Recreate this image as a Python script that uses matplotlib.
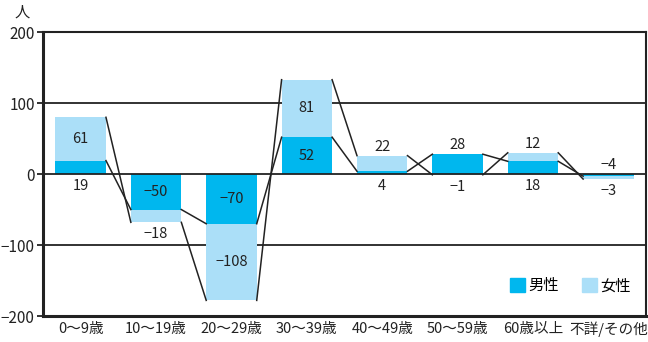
import matplotlib
matplotlib.use("Agg")
import matplotlib.pyplot as plt
from matplotlib.patches import Patch
import numpy as np

plt.rcParams['font.family'] = ['Noto Sans CJK JP', 'DejaVu Sans']

categories = ['0〜9歳', '10〜19歳', '20〜29歳', '30〜39歳', '40〜49歳', '50〜59歳', '60歳以上', '不詳/その他']
male = [19, -50, -70, 52, 4, 28, 18, -3]
female = [61, -18, -108, 81, 22, -1, 12, -4]
male_pos = ['below', 'in', 'in', 'in', 'below', 'above', 'below', 'below']
female_pos = ['in', 'below', 'in', 'in', 'above', 'below', 'above', 'above']
yticks = [-200, -100, 0, 100, 200]

c_male = '#00B7EE'
c_female = '#ABDFF8'
ink = '#222222'

fig = plt.figure(figsize=(6.48, 3.42), dpi=100)
ax = fig.add_axes([0.0664, 0.076, 0.9306, 0.830])

x = np.arange(len(categories))
w = 0.67
male = np.array(male, dtype=float)
female = np.array(female, dtype=float)
f_base = np.where(np.sign(female) == np.sign(male), male, 0.0)
f_end = f_base + female

ax.bar(x, male, w, color=c_male, zorder=2, label='男性')
ax.bar(x, female, w, bottom=f_base, color=c_female, zorder=2, label='女性')

# series lines
for i in range(len(x) - 1):
    ax.plot([x[i] + w / 2, x[i + 1] - w / 2], [male[i], male[i + 1]], color=ink, lw=1.1, zorder=3)
    ax.plot([x[i] + w / 2, x[i + 1] - w / 2], [f_end[i], f_end[i + 1]], color=ink, lw=1.1, zorder=3)

# gridlines
for g in [-100, 100]:
    ax.axhline(g, color=ink, lw=1.3, zorder=1)
ax.axhline(0, color=ink, lw=1.3, zorder=3)

# labels
fs = 10.5
for i in range(len(x)):
    top = max(0, male[i], f_end[i])
    bot = min(0, male[i], f_end[i])
    for val, base, pos in [(male[i], 0.0, male_pos[i]), (female[i], f_base[i], female_pos[i])]:
        txt = f'{int(val)}'.replace('-', '−')
        if pos == 'in':
            ax.text(x[i], base + val / 2, txt, ha='center', va='center', fontsize=fs, color=ink, zorder=4)
        elif pos == 'above':
            ax.annotate(txt, (x[i], top), xytext=(0, 1.5), textcoords='offset points',
                        ha='center', va='bottom', fontsize=fs, color=ink, zorder=4)
        else:
            ax.annotate(txt, (x[i], bot), xytext=(0, -3.5), textcoords='offset points',
                        ha='center', va='top', fontsize=fs, color=ink, zorder=4)

ax.set_xlim(-0.5, len(x) - 0.5)
ax.set_ylim(-200, 200)
ax.set_yticks(yticks)
ax.set_yticklabels([str(t).replace('-', '−') for t in yticks], fontsize=11)
ax.set_xticks(x)
ax.set_xticklabels(categories, fontsize=fs, color=ink)
ax.tick_params(axis='x', length=0, pad=4)
ax.tick_params(axis='y', length=4, width=1.3, pad=2, direction='out', colors=ink)
for s in ['left', 'bottom']:
    ax.spines[s].set_linewidth(2.2)
    ax.spines[s].set_color(ink)
for s in ['top', 'right']:
    ax.spines[s].set_linewidth(1.5)
    ax.spines[s].set_color(ink)

fig.text(22 / 648, 1 - 12 / 342, '人', ha='center', va='center', fontsize=11, color=ink)

handles = [Patch(color=c_male, label='男性'), Patch(color=c_female, label='女性')]
ax.legend(handles=handles, loc='center', bbox_to_anchor=(0.874, 0.106), ncol=2, frameon=False,
          fontsize=11, handlelength=1.0, handleheight=1.0, handletextpad=0.2, columnspacing=1.5)

fig.savefig('out.png', dpi=100)
